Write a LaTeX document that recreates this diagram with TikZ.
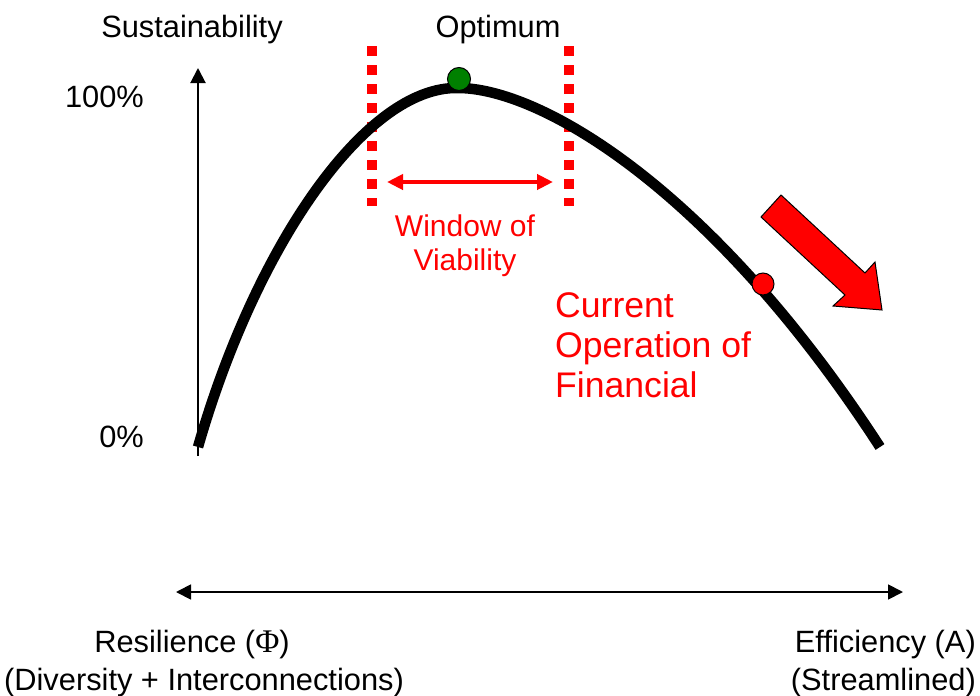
\documentclass[tikz,border=0pt]{standalone}
\usepackage{fontspec}
\setmainfont{Liberation Sans}
\newfontfamily\seriffont{Liberation Serif}
\usetikzlibrary{arrows.meta}
\definecolor{dkgreen}{RGB}{0,128,0}
\tikzset{
  lbl/.style={inner sep=0pt, font=\fontsize{30.8}{36}\selectfont},
  redlbl/.style={inner sep=0pt, text=red, font=\fontsize{30}{34}\selectfont},
  biglbl/.style={inner sep=0pt, text=red, font=\fontsize{35.6}{40}\selectfont, align=left},
  axis/.style={line width=2pt, -{Triangle[length=15pt,width=15pt]}},
  dbl/.style={line width=1.8pt, {Triangle[length=15pt,width=15pt]}-{Triangle[length=15pt,width=15pt]}},
  boundary/.style={red, line width=10pt, dash pattern=on 10pt off 9pt},
}
\begin{document}
\begin{tikzpicture}[x=1pt,y=-1pt]
\useasboundingbox (0,0) rectangle (980,696);
% axes
\coordinate (vb) at (198,456);
\coordinate (vt) at (198,68);
\draw[axis] (vb) -- (vt);
\coordinate (hl) at (176,592);
\coordinate (hr) at (903,592);
\draw[dbl] (hl) -- (hr);
% window boundaries
\coordinate (w1t) at (372,46); \coordinate (w1b) at (372,206);
\coordinate (w2t) at (569,46); \coordinate (w2b) at (569,206);
\draw[boundary] (w1t) -- (w1b);
\draw[boundary] (w2t) -- (w2b);
% curve
\coordinate (c0) at (198,447);
\coordinate (cp) at (458,88);
\coordinate (c1) at (880,447);
\draw[line width=10.5pt] (c0) .. controls (256,245) and (366,86) .. (cp)
  .. controls (540,88) and (712,188) .. (c1);
% window arrow
\coordinate (wa) at (387,182);
\coordinate (wb) at (553,182);
\draw[red, line width=4pt, {Triangle[length=16pt,width=15pt]}-{Triangle[length=16pt,width=15pt]}] (wa) -- (wb);
% dots
\node[circle, draw=black, line width=1pt, fill=dkgreen, minimum size=23pt, inner sep=0pt] (opt) at (459,79) {};
\node[circle, draw=black, line width=1pt, fill=red, minimum size=22pt, inner sep=0pt] (cur) at (763,284) {};
% big arrow
\draw[line width=1pt, fill=red, line join=miter] (761,217) -- (781,195) -- (865,273) -- (875,262) -- (882,310) -- (833,306) -- (845,295) -- cycle;
% labels
\node[lbl, anchor=base] (sus) at (192,37) {Sustainability};
\node[lbl, anchor=base] (optl) at (498,37) {Optimum};
\node[lbl, anchor=base east] (p100) at (144,107) {100\%};
\node[lbl, anchor=base east] (p0) at (144,447) {0\%};
\node[redlbl, anchor=base] (win1) at (465,236) {Window of};
\node[redlbl, anchor=base] (win2) at (465,270) {Viability};
\node[biglbl, anchor=base west] (c1l) at (555,317) {Current};
\node[biglbl, anchor=base west] (c2l) at (555,357) {Operation of};
\node[biglbl, anchor=base west] (c3l) at (555,397) {Financial};
\node[lbl, anchor=base] (res1) at (192,652) {Resilience ({\seriffont\fontsize{33}{36}\selectfont Φ})};
\node[lbl, anchor=base] (res2) at (204,690) {(Diversity + Interconnections)};
\node[lbl, anchor=base east] (eff1) at (976,652) {Efficiency (A)};
\node[lbl, anchor=base east] (eff2) at (976,690) {(Streamlined)};
\end{tikzpicture}
\end{document}
